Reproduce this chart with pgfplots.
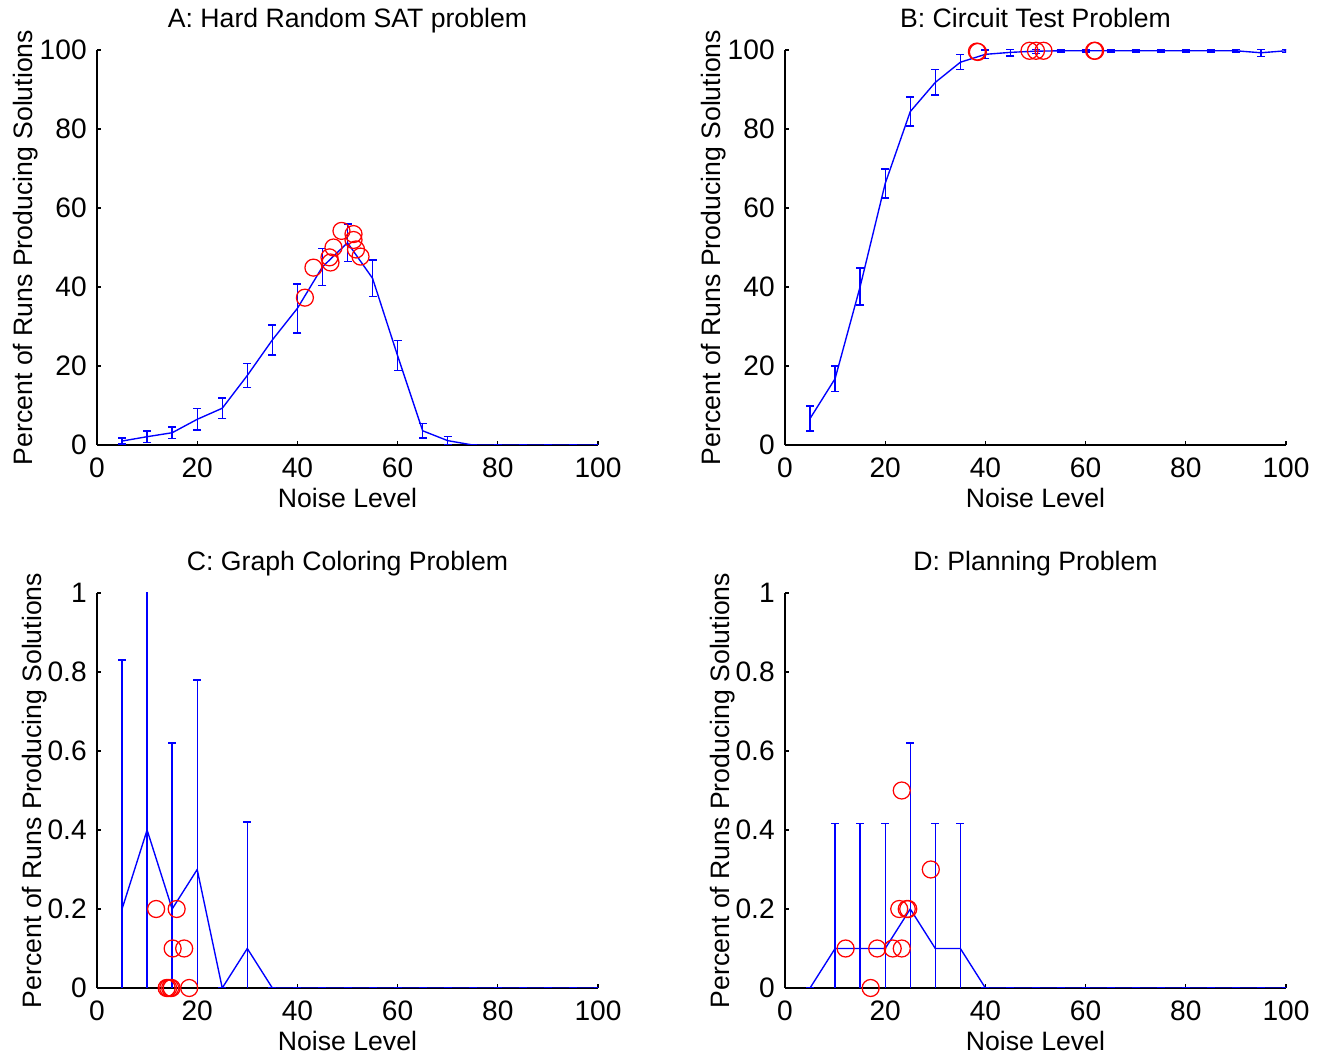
\documentclass[border=0pt]{standalone}
\usepackage{fontspec}
\setmainfont{Liberation Sans}
\usepackage{pgfplots}
\pgfplotsset{compat=1.18}

% 1 px of the reference = 0.4pt
\newcommand{\tickfont}{\fontsize{11.25}{13.5}\selectfont}
\newcommand{\labfont}{\fontsize{10.65}{12.8}\selectfont}
\pgfplotsset{
  panel/.style={
    scale only axis, width=200.4pt, height=158pt, anchor=south west,
    axis lines=left, axis line style={-, black, line width=0.5pt},
    xmin=0, xmax=100, xtick={0,20,...,100},
    tick align=inside, major tick length=1.6pt,
    tick style={black, line width=0.5pt},
    /pgf/number format/assume math mode=true,
    tick label style={font=\tickfont},
    xticklabel style={anchor=base, yshift=-13pt},
    yticklabel style={anchor=east, xshift=-0.6pt},
    xlabel={Noise Level}, ylabel={Percent of Runs Producing Solutions},
    every axis title/.style={at={(axis description cs:0.5,1.0557)}, anchor=base, font=\labfont},
    every axis x label/.style={at={(axis description cs:0.5,-0.1595)}, anchor=base, font=\labfont},
    clip mode=individual,
  },
  pct/.style={ymin=0, ymax=100, ytick={0,20,...,100},
    every axis y label/.style={at={(axis description cs:-0.128,0.5)}, rotate=90, anchor=base, font=\labfont}},
  frac/.style={ymin=0, ymax=1, ytick={0,0.2,0.4,0.6,0.8,1},
    every axis y label/.style={at={(axis description cs:-0.111,0.5)}, rotate=90, anchor=base, font=\labfont}},
  errline/.style={blue, line width=0.55pt, mark=none,
    error bars/.cd, y dir=both, y explicit,
    error bar style={blue, line width=0.55pt},
    error mark options={rotate=90, blue, mark size=1.6pt, line width=0.6pt}},
  hits/.style={only marks, mark=o, red, mark size=3.4pt, mark options={line width=0.5pt}},
}

\begin{document}
\begin{tikzpicture}
\path[use as bounding box] (0,0) rectangle (530.4pt,422.8pt);

% A
\begin{axis}[panel, pct, at={(38.8pt,244.8pt)}, title={A: Hard Random SAT problem}]
  \addplot[errline] coordinates {
    (5,1.0) +- (0,0.8) (10,2.1) +- (0,1.5) (15,3.1) +- (0,1.4) (20,6.5) +- (0,2.7)
    (25,9.3) +- (0,2.6) (30,17.6) +- (0,3.0) (35,26.6) +- (0,3.8) (40,34.6) +- (0,6.2)
    (45,45.1) +- (0,4.7) (50,51.2) +- (0,4.8) (55,42.2) +- (0,4.6) (60,22.6) +- (0,3.8)
    (65,3.6) +- (0,1.8) (70,1.1) +- (0,1.0) (75,0) +- (0,0.1) (80,0) +- (0,0)
    (85,0) +- (0,0) (90,0) +- (0,0) (95,0) +- (0,0) (100,0) +- (0,0)};
  \addplot[hits] coordinates {
    (41.5,37.3) (43.2,44.9) (46.4,47.5) (46.6,46.2) (47.2,50.0)
    (48.8,54.2) (51.2,53.4) (51.2,51.9) (51.7,49.5) (52.6,47.7)};
\end{axis}

% B
\begin{axis}[panel, pct, at={(314pt,244.8pt)}, title={B: Circuit Test Problem}]
  \addplot[errline] coordinates {
    (5,6.7) +- (0,3.2) (10,16.8) +- (0,3.2) (15,40.1) +- (0,4.7) (20,66.2) +- (0,3.7)
    (25,84.4) +- (0,3.7) (30,91.8) +- (0,3.2) (35,96.9) +- (0,1.9) (40,98.9) +- (0,1.1)
    (45,99.4) +- (0,0.9) (50,99.7) +- (0,0.6) (55,99.8) +- (0,0.3) (60,99.8) +- (0,0.3)
    (65,99.8) +- (0,0.3) (70,99.8) +- (0,0.3) (75,99.8) +- (0,0.3) (80,99.8) +- (0,0.3)
    (85,99.8) +- (0,0.3) (90,99.8) +- (0,0.3) (95,99.3) +- (0,1.0) (100,99.8) +- (0,0.4)};
  \addplot[hits] coordinates {
    (38.3,99.6) (38.5,99.5) (48.8,99.8) (50.1,99.8) (51.6,99.8) (61.7,99.8) (61.9,99.8)};
\end{axis}

% C
\begin{axis}[panel, frac, at={(38.8pt,27.6pt)}, title={C: Graph Coloring Problem}]
  \addplot[errline] coordinates {
    (5,0.2) +- (0,0.63) (10,0.4) +- (0,0.7) (15,0.2) +- (0,0.42) (20,0.3) +- (0,0.48)
    (25,0) +- (0,0) (30,0.1) +- (0,0.32) (35,0) +- (0,0) (40,0) +- (0,0)
    (45,0) +- (0,0) (50,0) +- (0,0) (55,0) +- (0,0) (60,0) +- (0,0)
    (65,0) +- (0,0) (70,0) +- (0,0) (75,0) +- (0,0) (80,0) +- (0,0)
    (85,0) +- (0,0) (90,0) +- (0,0) (95,0) +- (0,0) (100,0) +- (0,0)};
  \addplot[hits] coordinates {
    (11.8,0.2) (15.9,0.2) (15.1,0.1) (17.4,0.1)
    (13.9,0) (14.2,0) (14.6,0) (14.9,0) (18.4,0)};
\end{axis}

% D
\begin{axis}[panel, frac, at={(314pt,27.6pt)}, title={D: Planning Problem}]
  \addplot[errline] coordinates {
    (5,0) +- (0,0) (10,0.1) +- (0,0.317) (15,0.1) +- (0,0.317) (20,0.1) +- (0,0.317)
    (25,0.2) +- (0,0.42) (30,0.1) +- (0,0.317) (35,0.1) +- (0,0.317) (40,0) +- (0,0)
    (45,0) +- (0,0) (50,0) +- (0,0) (55,0) +- (0,0) (60,0) +- (0,0)
    (65,0) +- (0,0) (70,0) +- (0,0) (75,0) +- (0,0) (80,0) +- (0,0)
    (85,0) +- (0,0) (90,0) +- (0,0) (95,0) +- (0,0) (100,0) +- (0,0)};
  \addplot[hits] coordinates {
    (23.3,0.5) (29.1,0.3) (22.8,0.2) (24.3,0.2) (24.6,0.2)
    (12.1,0.1) (18.4,0.1) (21.5,0.1) (23.3,0.1) (17.1,0)};
\end{axis}
\end{tikzpicture}
\end{document}
